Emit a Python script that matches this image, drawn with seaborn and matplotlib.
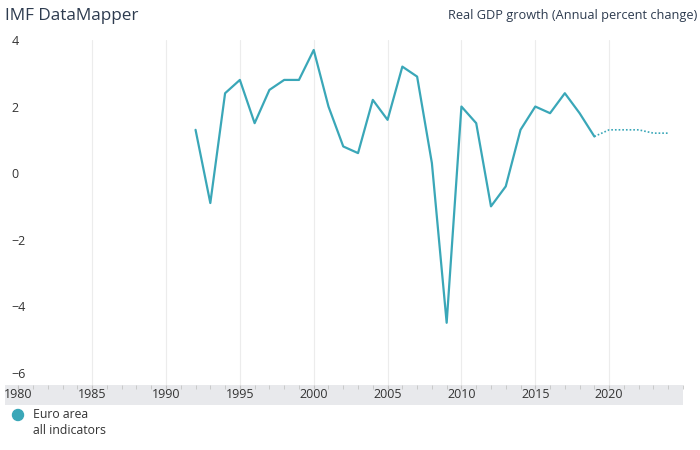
import matplotlib
matplotlib.use('Agg')
import matplotlib.pyplot as plt
from matplotlib.patches import Ellipse
from matplotlib.ticker import MultipleLocator
import seaborn as sns
import pandas as pd

# Euro area real GDP growth
years_actual = [1992, 1993, 1994, 1995, 1996, 1997, 1998, 1999, 2000, 2001,
                2002, 2003, 2004, 2005, 2006, 2007, 2008, 2009, 2010, 2011,
                2012, 2013, 2014, 2015, 2016, 2017, 2018, 2019]
gdp_actual = [1.3, -0.9, 2.4, 2.8, 1.5, 2.5, 2.8, 2.8, 3.7, 2.0,
              0.8, 0.6, 2.2, 1.6, 3.2, 2.9, 0.3, -4.5, 2.0, 1.5,
              -1.0, -0.4, 1.3, 2.0, 1.8, 2.4, 1.8, 1.1]
years_forecast = [2019, 2020, 2021, 2022, 2023, 2024]
gdp_forecast = [1.1, 1.3, 1.3, 1.3, 1.2, 1.2]

x_ticks = [1980, 1985, 1990, 1995, 2000, 2005, 2010, 2015, 2020]
y_ticks = [-6, -4, -2, 0, 2, 4]

line_color = '#3aa7b8'
text_color = '#2d3b4f'

sns.set_style('white')
plt.rcParams['font.family'] = ['Open Sans', 'DejaVu Sans']

df_a = pd.DataFrame({'year': years_actual, 'gdp': gdp_actual})
df_f = pd.DataFrame({'year': years_forecast, 'gdp': gdp_forecast})

fig = plt.figure(figsize=(7, 4.5), dpi=100)
ax = fig.add_axes([5 / 700, 65 / 450, 678 / 700, 345 / 450])
band = fig.add_axes([5 / 700, 45 / 450, 678 / 700, 20 / 450], sharex=ax)

sns.lineplot(data=df_a, x='year', y='gdp', ax=ax, color=line_color, lw=1.6)
sns.lineplot(data=df_f, x='year', y='gdp', ax=ax, color=line_color, lw=1.2,
             linestyle=(0, (1, 1.2)))

ax.set_xlim(1979.1, 2025)
ax.set_ylim(-6.37, 3.99)
ax.set_xticks(x_ticks)
ax.set_yticks(y_ticks)
ax.grid(axis='x', color='#ececec', lw=0.8)
ax.grid(axis='y', visible=False)
ax.get_xgridlines()[0].set_visible(False)  # no line at 1980
for s in ax.spines.values():
    s.set_visible(False)
ax.set_xlabel('')
ax.set_ylabel('')
ax.tick_params(axis='x', labelbottom=False, length=0)
ax.tick_params(axis='y', length=0, pad=-4.5, labelsize=9, labelcolor='#333333')
for lab in ax.get_yticklabels():
    lab.set_ha('left')
    lab.set_clip_on(False)

band.set_facecolor('#e8e9ec')
for s in band.spines.values():
    s.set_visible(False)
band.set_yticks([])
band.xaxis.set_minor_locator(MultipleLocator(1))
band.tick_params(axis='x', which='both', top=True, bottom=False, direction='in',
                 length=3, color='#c4c4c4', labelbottom=True, labeltop=False,
                 pad=-12.5, labelsize=9, labelcolor='#333333')
band.set_xlabel('')

fig.text(5 / 700, 1 - 16 / 450, 'IMF DataMapper', fontsize=12.3, color=text_color,
         ha='left', va='center')
fig.text(697 / 700, 1 - 16 / 450, 'Real GDP growth (Annual percent change)',
         fontsize=9.2, color=text_color, ha='right', va='center')

# legend
fig.add_artist(Ellipse((18 / 700, 1 - 415 / 450), 11 / 700, 11 / 450,
                       transform=fig.transFigure, color=line_color))
fig.text(33 / 700, 1 - 415 / 450, 'Euro area', fontsize=8.8, color='#333333',
         ha='left', va='center')
fig.text(33 / 700, 1 - 431 / 450, 'all indicators', fontsize=8.8,
         color='#333333', ha='left', va='center')

fig.savefig('out.png', dpi=100)
